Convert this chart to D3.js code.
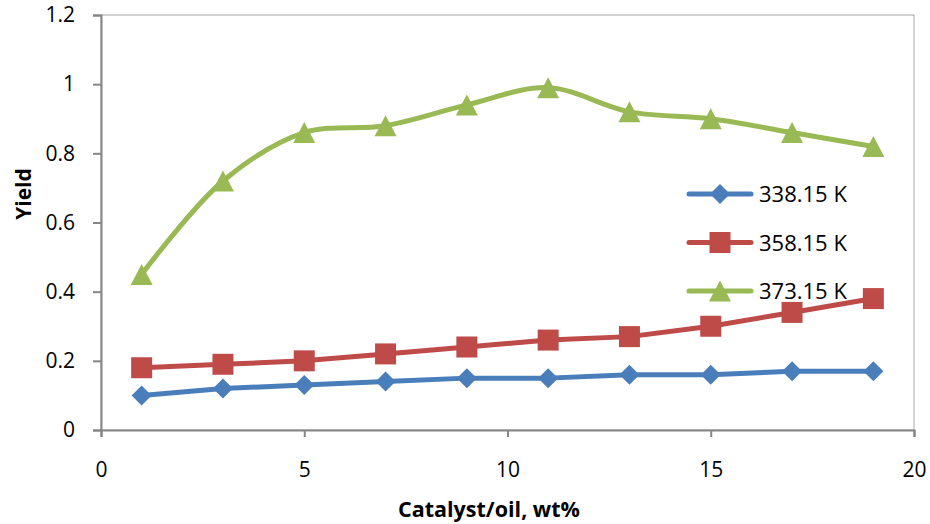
<!DOCTYPE html>
<html>
<head>
<meta charset="utf-8">
<script src="https://cdn.jsdelivr.net/npm/d3@7"></script>
<style>
  body { margin: 0; background: #fff; }
  text { font-family: "Open Sans", sans-serif; fill: #000; }
</style>
</head>
<body>
<script>
const catalyst = [1, 3, 5, 7, 9, 11, 13, 15, 17, 19];
const yield338 = [0.10, 0.12, 0.13, 0.14, 0.15, 0.15, 0.16, 0.16, 0.17, 0.17];
const yield358 = [0.18, 0.19, 0.20, 0.22, 0.24, 0.26, 0.27, 0.30, 0.34, 0.38];
const yield373 = [0.45, 0.72, 0.86, 0.88, 0.94, 0.99, 0.92, 0.90, 0.86, 0.82];
const seriesNames = ["338.15 K", "358.15 K", "373.15 K"];
const xTicks = [0, 5, 10, 15, 20];
const yTicks = [0, 0.2, 0.4, 0.6, 0.8, 1, 1.2];

const WIDTH = 930, HEIGHT = 524;
const LEFT = 101, TOP = 15, RIGHT = 914, BOTTOM = 430;

// marker shapes, drawn around (0,0)
var diamond = function(r) { return 'M0,' + (-r) + 'L' + r + ',0L0,' + r + 'L' + (-r) + ',0Z'; };
var square = function(r) { return 'M' + (-r) + ',' + (-r) + 'h' + (2 * r) + 'v' + (2 * r) + 'h' + (-2 * r) + 'Z'; };
var triangle = function(r) { return 'M0,' + (-r) + 'L' + (r + 0.5) + ',' + r + 'L' + (-r - 0.5) + ',' + r + 'Z'; };

var series = [
  {name: seriesNames[0], values: yield338, color: "#4a7ebb", marker: diamond(10), smooth: false},
  {name: seriesNames[1], values: yield358, color: "#be4b48", marker: square(10.5), smooth: false},
  {name: seriesNames[2], values: yield373, color: "#98b954", marker: triangle(10.5), smooth: true}
];

var xScale = d3.scaleLinear().domain([0, 20]).range([LEFT, RIGHT]);
var yScale = d3.scaleLinear().domain([0, 1.2]).range([BOTTOM, TOP]);

var svg = d3.select('body').append('svg')
    .attr('width', WIDTH)
    .attr('height', HEIGHT);

// plot frame (top/right)
svg.append('rect')
    .attr('x', LEFT).attr('y', TOP)
    .attr('width', RIGHT - LEFT).attr('height', BOTTOM - TOP)
    .attr('fill', 'none').attr('stroke', '#a6a6a6').attr('stroke-width', 1);

var xAxis = svg.append('g')
    .attr('transform', 'translate(0,' + BOTTOM + ')')
    .call(d3.axisBottom(xScale).tickValues(xTicks).tickSize(7).tickPadding(25).tickFormat(d3.format('d')));
var yAxis = svg.append('g')
    .attr('transform', 'translate(' + LEFT + ',0)')
    .call(d3.axisLeft(yScale).tickValues(yTicks).tickSize(8).tickPadding(18).tickFormat(function(d) { return d3.format('')(+d.toFixed(1)); }));

[xAxis, yAxis].forEach(function(ax) {
  ax.select('.domain').attr('stroke', '#868686').attr('stroke-width', 2);
  ax.selectAll('.tick line').attr('stroke', '#868686').attr('stroke-width', 2);
  ax.selectAll('.tick text').style('font-size', '21px').style('font-family', '"Open Sans", sans-serif').attr('fill', '#000');
});

svg.append('text')
    .attr('x', 489).attr('y', 517)
    .attr('text-anchor', 'middle')
    .style('font-size', '21.5px').style('font-weight', 'bold')
    .text('Catalyst/oil, wt%');

svg.append('text')
    .attr('transform', 'translate(31,194) rotate(-90)')
    .attr('text-anchor', 'middle')
    .style('font-size', '21px').style('font-weight', 'bold')
    .text('Yield');

series.forEach(function(s) {
  var line = d3.line()
      .x(function(d, i) { return xScale(catalyst[i]); })
      .y(function(d) { return yScale(d); })
      .curve(s.smooth ? d3.curveCatmullRom.alpha(0.5) : d3.curveLinear);

  svg.append('path')
      .attr('d', line(s.values))
      .attr('fill', 'none')
      .attr('stroke', s.color)
      .attr('stroke-width', 5)
      .attr('stroke-linejoin', 'round')
      .attr('stroke-linecap', 'round');

  svg.selectAll(null).data(s.values).enter()
      .append('path')
      .attr('d', s.marker)
      .attr('transform', function(d, i) {
        return 'translate(' + xScale(catalyst[i]) + ',' + yScale(d) + ')';
      })
      .attr('fill', s.color);
});

// legend
var legend = svg.append('g');
series.forEach(function(s, i) {
  var y = 194 + i * 48.5;
  var g = legend.append('g').attr('transform', 'translate(0,' + y + ')');
  g.append('line')
      .attr('x1', 689).attr('x2', 751)
      .attr('stroke', s.color).attr('stroke-width', 5).attr('stroke-linecap', 'round');
  g.append('path')
      .attr('d', s.marker)
      .attr('transform', 'translate(720,0)')
      .attr('fill', s.color);
  g.append('text')
      .attr('x', 759).attr('y', 8)
      .style('font-size', '22px')
      .text(s.name);
});
</script>
</body>
</html>
